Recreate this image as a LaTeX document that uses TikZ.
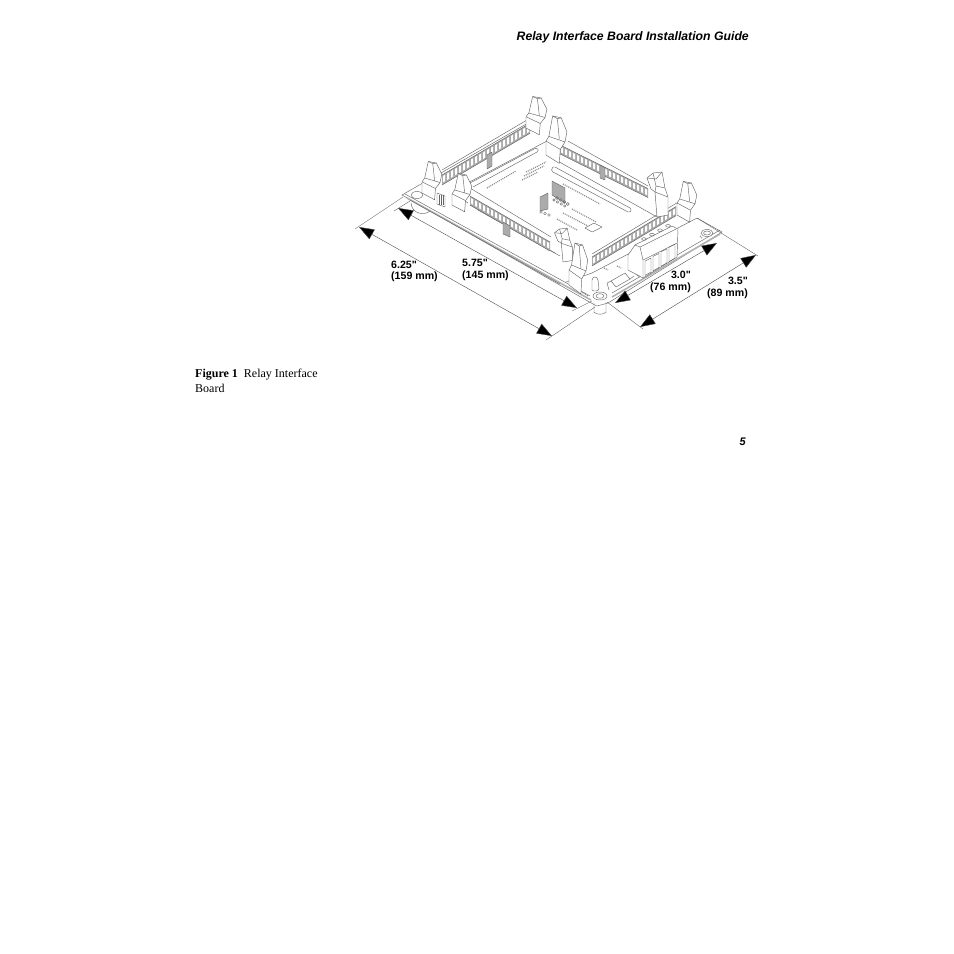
\documentclass[tikz,border=0pt]{standalone}
\usepackage{fontspec}
\setmainfont{Liberation Serif}
\newfontfamily\arialf{Liberation Sans}
\usetikzlibrary{arrows.meta}
\definecolor{ink}{HTML}{666666}
\definecolor{band}{HTML}{ABABAB}
\tikzset{
  art/.style={draw=ink,line width=0.45pt,line join=round},
  shell/.style={art,fill=white},
  notch/.style={art,fill=band},
  dim/.style={draw=black!70,line width=0.4pt},
  ext/.style={draw=black!60,line width=0.4pt},
  dimarrow/.style={dim,{Triangle[length=15pt,width=11pt,fill=black]}-{Triangle[length=15pt,width=11pt,fill=black]}},
  dimtext/.style={font=\arialf\bfseries\fontsize{10.6}{11.8}\selectfont,align=left,inner sep=0pt,anchor=north west},
  silk/.style={draw=black!45,line width=1.2pt,dash pattern=on 1pt off 1pt},
  hatch/.style={draw=black!30,line width=1.6pt}
}
% band of contact teeth starting at (x0,y0), n teeth of period 4 with rise dy per tooth, height h
\newcommand{\toothband}[5]{%
  \pgfmathsetmacro{\xend}{#1+4*#3}\pgfmathsetmacro{\yend}{#2+#4*#3}
  \fill[band] (#1,#2) -- (\xend,\yend) -- (\xend,\yend+#5) -- (#1,#2+#5) -- cycle;
  \foreach \i in {1,...,#3}{
    \pgfmathsetmacro{\ax}{#1+4*\i-3}\pgfmathsetmacro{\ay}{#2+(\i-0.75)*#4}
    \pgfmathsetmacro{\bx}{#1+4*\i-1}\pgfmathsetmacro{\by}{#2+(\i-0.25)*#4}
    \fill[white] (\ax,\ay+1.5) -- (\bx,\by+1.5) -- (\bx,\by+#5-2) -- (\ax,\ay+#5-2) -- cycle;
  }
  \draw[art] (#1,#2) -- (\xend,\yend);
  \draw[art] (#1,#2+#5) -- (\xend,\yend+#5);
}
% near-end latch
\newcommand{\latcha}[4]{%
  \begin{scope}[shift={(#1,#2)},xscale=#3,yscale=#4]
    \draw[shell] (0,0) -- (0,-15) -- (3,-20) -- (7,-42) -- (16,-40) -- (22,-25) -- (20,-14) -- (15,-6) -- (14,9) -- cycle;
    \draw[art] (0,-15) -- (15,-6) (3,-20) -- (20,-14) (7,-42) -- (12,-39) -- (16,-40) (12,-39) -- (14,-17);
  \end{scope}}
% far-end latch
\newcommand{\latchb}[4]{%
  \begin{scope}[shift={(#1,#2)},xscale=#3,yscale=#4]
    \draw[shell] (0,0) -- (11,-2) -- (11,-20) -- (8,-29) -- (5,-45) -- (-4,-44) -- (-10,-39) -- (-6,-28) -- (-2,-25) -- cycle;
    \draw[art] (-4,-44) -- (-1,-31) -- (8,-29) (-1,-31) -- (-2,-25) (-2,-25) -- (11,-20) (-10,-39) -- (-1,-38) -- (5,-45);
  \end{scope}}
\begin{document}
\begin{tikzpicture}[x=1pt,y=-1pt]
\useasboundingbox (0,0) rectangle (954,954);
\fill[white] (0,0) rectangle (954,954);

% ---- board
\draw[art] (402,195) -- (428,180);
\draw[art] (697,218) -- (722,232);
\draw[art] (402,195) -- (593,304) -- (597,306) -- (608,303) -- (722,232);
\draw[art] (405,194) -- (590,296);
\draw[hatch] (407,198) -- (591,300);
\draw[art] (612,293) -- (720,230);
\draw[hatch] (612,297) -- (720,234);
% rear-left platform lines and slot
\draw[art] (462,186) -- (547,141);
\draw[art] (470,183) -- (534,149) .. controls (537,147) and (540,150) .. (537,152) -- (473,187);
% rear-right platform lines and slot
\draw[art] (547,155) -- (657,217);
\draw[art] (553,167) .. controls (551,169) and (551,171) .. (553,172) -- (628,212) .. controls (631,213) and (632,209) .. (630,208) -- (555,167) -- cycle;
% inner left side
\draw[art] (470,205) -- (555,253);
\draw[art] (478,210) -- (560,256);
\draw[art] (468,203) -- (458,196);
\draw[art] (592,273) -- (697,218);
\draw[art] (566,282) -- (592,273);
\draw[art] (410,200) -- (560,284);

% mounting holes
\draw[art] (417,195) ellipse (6 and 3.5);
\draw[art] (411,203) .. controls (412,214) and (424,216) .. (430,211);
\draw[shell] (707,233) ellipse (6 and 3.5);
\draw[art] (707,233) ellipse (3.5 and 2);
\draw[art] (594,303) -- (594,312) .. controls (596,315) and (604,315) .. (606,312) -- (606,302);
\draw[shell] (600,296) ellipse (7 and 4);
\draw[art] (600,296) ellipse (4 and 2.3);

% ---- rear connectors
\draw[art] (442,170) -- (527,120);
\draw[art] (441,173) -- (528,123);
\toothband{442}{175}{22}{-2.35}{10}
\draw[notch] (487,155) -- (492,152) -- (492,166) -- (487,169) -- cycle;
\draw[art] (568,141) -- (648,186);
\toothband{560}{145}{22}{1.98}{9}
\draw[notch] (600,165) -- (605,168) -- (605,180) -- (600,178) -- cycle;

% ---- front connectors
\draw[art] (470,188) -- (551,237);
\toothband{470}{196}{20}{2.3}{9}
\draw[notch] (503,222) -- (510,226) -- (510,237) -- (503,234) -- cycle;
\draw[art] (592,254) -- (680,201);
\toothband{592}{257}{21}{-2.4}{9}

% ---- central silkscreen and headers
\draw[silk] (487,188) -- (516,171);
\draw[silk] (526,172) -- (546,162);
\draw[silk] (524,176) -- (544,166);
\draw[silk] (522,180) -- (538,172);
\draw[silk] (563,184) -- (600,204);
\draw[silk] (572,209) -- (596,222);
\draw[silk] (563,213) -- (588,226);
\draw[silk] (557,219) -- (577,230);
\draw[art] (585,228) -- (594,223) -- (602,227) -- (592,232) -- cycle;
\fill[band] (552,181) -- (565,188) -- (565,203) -- (552,195) -- cycle;
\draw[art] (552,181) -- (565,188) -- (565,203) -- (552,195) -- cycle;
\foreach \k in {0,1,2,3}{ \draw[art] (557+3.6*\k,198+2*\k) circle (1.5); \draw[art] (554+3.6*\k,200+2*\k) circle (1.3); }
\fill[band] (540,197) -- (548,193) -- (548,209) -- (540,211) -- cycle;
\draw[art] (540,197) -- (548,193) -- (548,209) -- (540,211) -- cycle;
\foreach \k in {0,1,2}{ \draw[art] (541+4*\k,212+1.5*\k) circle (1.4); }

% ---- jumper near left
\draw[shell] (437,193) -- (445,196) -- (445,207) -- (437,204) -- cycle;
\foreach \k in {439,441,443}{ \draw[draw=black!60,line width=0.8pt] (\k,194.5) -- (\k,205); }

% ---- latches
\latcha{526}{128}{0.95}{0.75}
\latchb{657}{217}{1}{1}
\latcha{546}{155}{0.95}{0.93}
\latcha{422}{193}{0.9}{0.75}
\latcha{452}{205}{0.9}{0.75}
\latcha{677}{215}{0.9}{0.8}
\latchb{563}{262}{0.85}{0.75}
\latcha{569}{285}{0.85}{1}

% ---- terminal block
\draw[shell] (628,255) -- (635,245) -- (672,226) -- (678,229) -- (677,257) -- (643,278) -- (628,270) -- cycle;
\draw[art] (635,245) -- (640,247) -- (643,260) -- (643,278);
\draw[art] (640,247) -- (676,229);
\draw[art] (643,260) -- (677,243);
\foreach \k in {0,1,2,3}{
  \draw[art] (645+8*\k,261-4.6*\k) -- (651+8*\k,258-4.6*\k) -- (651+8*\k,272-4.6*\k) -- (645+8*\k,275.5-4.6*\k) -- cycle;
}
\foreach \k in {0,1,2,3}{ \draw[art] (644+8*\k,239-4.4*\k) ellipse (2.4 and 1.3); }

% ---- LED, resistor and small parts
\draw[shell] (592,280) -- (592,290) .. controls (594,292) and (598,291) .. (599,289) -- (598,280) .. controls (597,276) and (593,276) .. (592,280) -- cycle;
\draw[shell] (611,281) -- (625,273) -- (630,279) -- (616,287) -- cycle;
\draw[art] (611,281) -- (607,283) -- (609,290);
\draw[art] (630,279) -- (634,276);
\draw[silk] (582,292) -- (588,296);
\draw[silk] (604,268) -- (608,270);
\draw[silk] (617,266) -- (621,268);
\draw[silk] (637,275) -- (640,277);
\draw[silk] (700,236) -- (702,238);

% ---- dimensions
\coordinate (a625) at (359,227);
\coordinate (b625) at (552,336);
\coordinate (a575) at (398,208);
\coordinate (b575) at (577,308);
\coordinate (a35) at (640,327);
\coordinate (b35) at (756,255);
\coordinate (a30) at (615,303);
\coordinate (b30) at (717,243);
\coordinate (e1) at (403,197);
\coordinate (e2) at (595,307);
\coordinate (e3) at (607,302);
\coordinate (e4) at (697,218);
\coordinate (e5) at (410,201);
\coordinate (e6) at (592,301);
\draw[ext] (355,229) -- (e1);
\draw[ext] (546,340) -- (e2);
\draw[ext] (e3) -- (643,329);
\draw[ext] (e4) -- (758,256);
\draw[ext] (394,211) -- (e5);
\draw[ext] (572,311) -- (e6);
\draw[dimarrow] (a625) -- (b625);
\draw[dimarrow] (a575) -- (b575);
\draw[dimarrow] (a35) -- (b35);
\draw[dimarrow] (a30) -- (b30);

% ---- labels
\node[dimtext] (l625) at (391,260.5) {6.25"\\(159 mm)};
\node[dimtext] (l575) at (462,259.5) {5.75"\\(145 mm)};
\node[dimtext,align=right,anchor=north east] (l30) at (691,271) {3.0"\\(76 mm)};
\node[dimtext,align=right,anchor=north east] (l35) at (748,277) {3.5"\\(89 mm)};
\node[font=\arialf\bfseries\itshape\fontsize{12.25}{14}\selectfont,inner sep=0pt,anchor=base east] (hdr) at (749,40) {Relay Interface Board Installation Guide};
\node[font=\fontsize{12}{15}\selectfont,align=left,inner sep=0pt,anchor=north west] (cap) at (195,368.7) {\textbf{Figure 1}\hspace{0.5em}Relay Interface\\Board};
\node[font=\arialf\bfseries\itshape\fontsize{11}{13}\selectfont,inner sep=0pt,anchor=base east] (pg) at (746,445) {5};
\end{tikzpicture}
\end{document}
